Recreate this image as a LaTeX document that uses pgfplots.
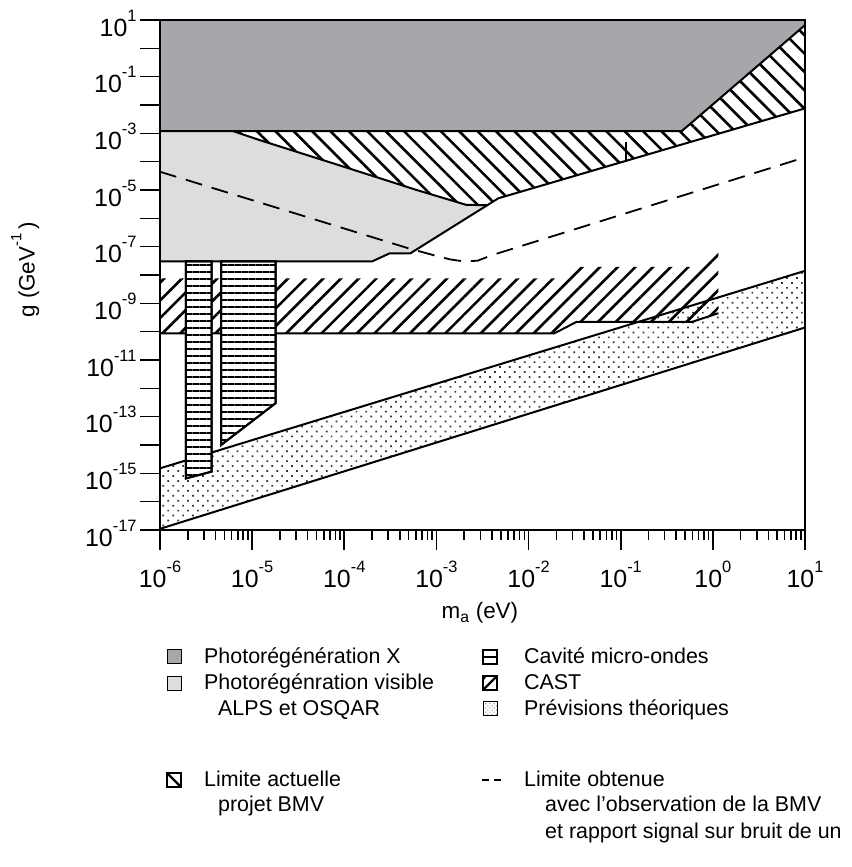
\documentclass[border=0pt]{standalone}
\usepackage{fontspec}
\setmainfont{Liberation Sans}
\usepackage{pgfplots}
\pgfplotsset{compat=1.18}
\usetikzlibrary{patterns.meta}
\definecolor{dgray}{RGB}{166,167,170}
\definecolor{lgray}{RGB}{220,221,223}
\newcommand{\tp}[1]{10\raisebox{0.6em}{\fontsize{16.5}{16.5}\selectfont #1}}
\begin{document}
\begin{tikzpicture}
\useasboundingbox (0,0) rectangle (852bp,867bp);
\begin{axis}[
  at={(160bp,337bp)}, anchor=south west,
  scale only axis, width=645bp, height=510bp,
  xmode=log, ymode=log,
  xmin=1e-6, xmax=10, ymin=1e-17, ymax=10,
  axis on top,
  axis line style={line width=1.8bp},
  every tick/.style={line width=1.6bp, black},
  major tick length=20bp, minor tick length=10bp,
  tick align=outside, tick pos=left,
  tick label style={font=\fontsize{25}{27}\selectfont},
  label style={font=\fontsize{22.5}{26}\selectfont},
  xtick={1e-6,1e-5,1e-4,1e-3,1e-2,1e-1,1,10},
  xticklabels={\tp{-6},\tp{-5},\tp{-4},\tp{-3},\tp{-2},\tp{-1},\tp{0},\tp{1}},
  xticklabel style={anchor=north, yshift=-8bp},
  ytick={1e-17,1e-16,1e-15,1e-14,1e-13,1e-12,1e-11,1e-10,1e-9,1e-8,1e-7,1e-6,1e-5,1e-4,1e-3,1e-2,1e-1,1,10},
  yticklabels={\tp{-17},{},\tp{-15},{},\tp{-13},{},\tp{-11},{},\tp{-9},{},\tp{-7},{},\tp{-5},{},\tp{-3},{},\tp{-1},{},\tp{1}},
  yminorticks=false,
  yticklabel style={anchor=east, xshift=0bp, yshift=-3bp},
  xlabel={m\textsubscript{a} (eV)},
  xlabel style={at={(axis description cs:0.496,-0.163)}, anchor=center},
  ylabel={g (GeV\raisebox{0.6em}{\fontsize{15}{15}\selectfont -1}\,)},
  ylabel style={at={(axis description cs:-0.209,0.51)}, anchor=center},
]
% theoretical predictions band
\addplot[draw=none, fill=white, postaction={pattern={Dots[distance=7bp,radius=1.2bp,angle=45]}, pattern color=black!80}]
  coordinates {(1e-6,1.5e-15) (10,1.4e-8) (10,1.4e-10) (1e-6,1.1e-17)} -- cycle;
\addplot[line width=2bp] coordinates {(1e-6,1.5e-15) (10,1.4e-8)};
\addplot[line width=2bp] coordinates {(1e-6,1.1e-17) (10,1.4e-10)};
% CAST
\addplot[draw=none, pattern={Lines[angle=45,distance=12.5bp,line width=2.6bp]}]
  coordinates {(1e-6,7.6e-9) (2.2e-2,7.6e-9) (3.4e-2,1.95e-8) (0.67,1.95e-8) (1.15,1.7e-7)
               (1.15,4.5e-10) (0.59,2.2e-10) (3.3e-2,2.2e-10) (1.9e-2,8.7e-11) (1e-6,8.7e-11)} -- cycle;
\addplot[line width=2bp] coordinates {(1e-6,8.7e-11) (1.9e-2,8.7e-11) (3.3e-2,2.2e-10) (0.59,2.2e-10) (1.15,4.5e-10)};
% visible photoregeneration
\addplot[draw=none, fill=lgray]
  coordinates {(1e-6,1.2e-3) (6.2e-6,1.2e-3) (1.2e-5,5.8e-4) (7.6e-5,8.7e-5) (6.1e-4,1.0e-5)
               (2.1e-3,3.0e-6) (3.5e-3,2.9e-6) (5.2e-4,5.8e-8) (3.1e-4,5.8e-8) (2.0e-4,3.0e-8) (1e-6,3.0e-8)} -- cycle;
\addplot[line width=2bp] coordinates {(1e-6,3.0e-8) (2.0e-4,3.0e-8) (3.1e-4,5.8e-8) (5.2e-4,5.8e-8) (4.7e-3,5.1e-6)};
% X photoregeneration
\addplot[draw=none, fill=dgray]
  coordinates {(1e-6,10) (10,10) (10,6.6) (0.46,1.2e-3) (1e-6,1.2e-3)} -- cycle;
\addplot[line width=2bp] coordinates {(1e-6,1.2e-3) (0.46,1.2e-3) (10,6.6)};
% BMV current limit
\addplot[draw=none, pattern={Lines[angle=-45,distance=13bp,line width=2.6bp]}]
  coordinates {(6.2e-6,1.2e-3) (0.46,1.2e-3) (10,6.6) (10,7.6e-3) (4.7e-3,5.1e-6) (3.5e-3,2.9e-6)
               (2.1e-3,3.0e-6) (6.1e-4,1.0e-5) (7.6e-5,8.7e-5) (1.2e-5,5.8e-4)} -- cycle;
\addplot[line width=2bp] coordinates {(10,7.6e-3) (4.7e-3,5.1e-6)};
\addplot[line width=2bp] coordinates {(6.2e-6,1.2e-3) (1.2e-5,5.8e-4) (7.6e-5,8.7e-5) (6.1e-4,1.0e-5) (2.1e-3,3.0e-6) (3.5e-3,2.9e-6)};
\addplot[line width=2bp] coordinates {(0.113,1.0e-4) (0.113,5.1e-4)};
% microwave cavities
\addplot[line width=2bp, fill=white, postaction={pattern={Lines[angle=0,distance=7bp,line width=2bp]}}]
  coordinates {(1.91e-6,3.0e-8) (3.64e-6,3.0e-8) (3.64e-6,1.15e-15) (1.91e-6,6.6e-16)} -- cycle;
\addplot[line width=2bp, fill=white, postaction={pattern={Lines[angle=0,distance=7bp,line width=2bp]}}]
  coordinates {(4.6e-6,3.0e-8) (1.8e-5,3.0e-8) (1.8e-5,3.0e-13) (4.6e-6,1.0e-14)} -- cycle;
% projected limit
\addplot[line width=1.8bp, dash pattern=on 17bp off 10bp]
  coordinates {(1e-6,4.4e-5) (5.0e-4,8.7e-8) (1e-3,4.7e-8) (1.41e-3,3.55e-8) (2.0e-3,3.0e-8)
               (2.8e-3,3.2e-8) (4.0e-3,5.0e-8) (8.1,1.15e-4)};
\end{axis}
% legend
\begin{scope}[font=\fontsize{21.5}{24}\selectfont]
\draw[line width=1bp, fill=dgray] (167bp,203bp) rectangle (181bp,217bp);
\node[anchor=base west, inner sep=0] at (204bp,203bp) {Photorégénération X};
\draw[line width=0.6bp, fill=lgray] (167bp,177bp) rectangle (181bp,191bp);
\node[anchor=base west, inner sep=0] at (204bp,177bp) {Photorégénration visible};
\node[anchor=base west, inner sep=0] at (218bp,151bp) {ALPS et OSQAR};
\draw[line width=1.4bp] (483bp,203bp) rectangle (497bp,217bp) (483bp,210bp) -- (497bp,210bp);
\node[anchor=base west, inner sep=0] at (524bp,203bp) {Cavité micro-ondes};
\draw[line width=1.4bp] (483bp,177bp) rectangle (497bp,191bp);
\fill (483bp,177bp) -- (483bp,191bp) -- (487bp,191bp) -- (483bp,186bp) -- cycle;
\draw[line width=2.2bp] (483bp,177bp) -- (497bp,191bp);
\node[anchor=base west, inner sep=0] at (524bp,177bp) {CAST};
\draw[line width=1bp, pattern={Dots[distance=3bp,radius=0.6bp,angle=45]}, pattern color=black!70] (483bp,151bp) rectangle (497bp,165bp);
\node[anchor=base west, inner sep=0] at (524bp,151bp) {Prévisions théoriques};
\draw[line width=1.6bp] (167bp,80bp) rectangle (181bp,94bp);
\draw[line width=2.2bp] (167bp,94bp) -- (181bp,80bp);
\node[anchor=base west, inner sep=0] at (204bp,80bp) {Limite actuelle};
\node[anchor=base west, inner sep=0] at (218bp,55bp) {projet BMV};
\draw[line width=1.4bp] (482bp,87bp) -- (489bp,87bp) (494bp,87bp) -- (501bp,87bp);
\node[anchor=base west, inner sep=0] at (524bp,80bp) {Limite obtenue};
\node[anchor=base west, inner sep=0] at (545bp,55bp) {avec l'observation de la BMV};
\node[anchor=base west, inner sep=0] at (545bp,29bp) {et rapport signal sur bruit de un};
\end{scope}
\end{tikzpicture}
\end{document}
